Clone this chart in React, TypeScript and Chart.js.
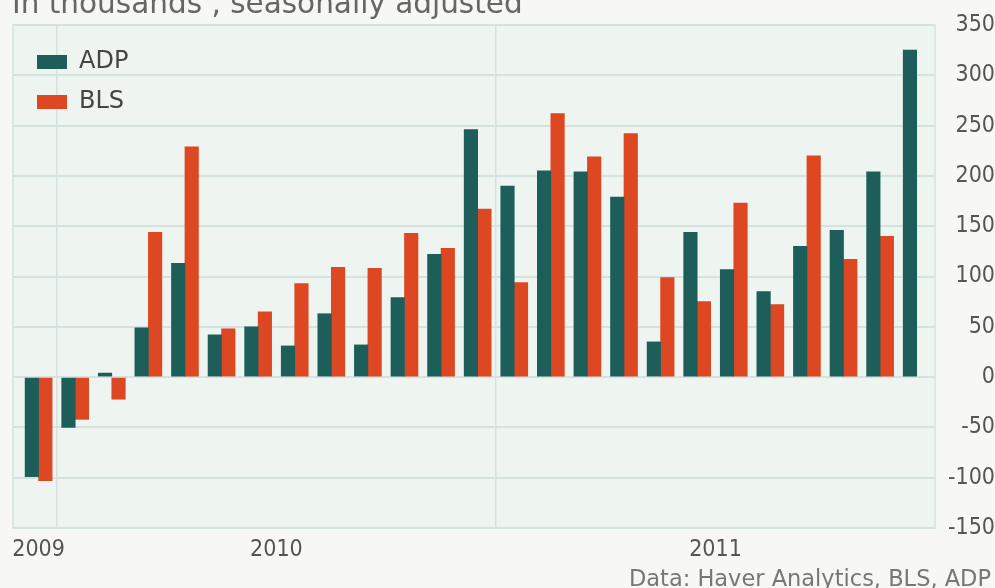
import React, { useEffect, useRef } from 'react';
import { Chart, registerables } from 'chart.js';

Chart.register(...registerables);

// Months Dec 2009 .. Dec 2011
const MONTHS = [
  'Dec 2009',
  'Jan 2010', 'Feb 2010', 'Mar 2010', 'Apr 2010', 'May 2010', 'Jun 2010',
  'Jul 2010', 'Aug 2010', 'Sep 2010', 'Oct 2010', 'Nov 2010', 'Dec 2010',
  'Jan 2011', 'Feb 2011', 'Mar 2011', 'Apr 2011', 'May 2011', 'Jun 2011',
  'Jul 2011', 'Aug 2011', 'Sep 2011', 'Oct 2011', 'Nov 2011', 'Dec 2011',
];
const ADP = [-99, -50, 4, 49, 113, 42, 50, 31, 63, 32, 79, 122, 246, 190, 205, 204, 179, 35, 144, 107, 85, 130, 146, 204, 325];
const BLS = [-103, -42, -22, 144, 229, 48, 65, 93, 109, 108, 143, 128, 167, 94, 262, 219, 242, 99, 75, 173, 72, 220, 117, 140, null];

const Y_MIN = -150;
const Y_MAX = 350;
const Y_STEP = 50;
const YEAR_LABELS = ['2009', '2010', '2011'];
const YEAR_LABEL_AT = [0, 6.5, 18.5];
const YEAR_LINES = [0.5, 12.5];

const TITLE = 'In thousands , seasonally adjusted';
const SOURCE = 'Data: Haver Analytics, BLS, ADP';

const ADP_COLOR = '#1d5e5b';
const BLS_COLOR = '#dd4722';
const PLOT_BG = '#eef5f0';
const PAGE_BG = '#f7f7f6';
const GRID = '#d4e3e0';
const TEXT = '#555555';
const TICK_FONT = "'DejaVu Sans Condensed', 'Liberation Sans', sans-serif";
const SANS = "'DejaVu Sans', Verdana, sans-serif";

export default function App() {
  const ref = useRef<HTMLCanvasElement>(null);

  useEffect(() => {
    const canvas = ref.current;
    if (!canvas) return;

    const decor = {
      id: 'decor',
      beforeDraw(chart: any) {
        const { ctx, chartArea } = chart;
        const { left, top, right, bottom } = chartArea;
        ctx.save();
        ctx.fillStyle = PLOT_BG;
        ctx.fillRect(left, top, right - left, bottom - top);
        ctx.restore();
      },
      beforeDatasetsDraw(chart: any) {
        const { ctx, chartArea } = chart;
        const { left, top, right, bottom } = chartArea;
        ctx.save();
        ctx.strokeStyle = GRID;
        ctx.lineWidth = 1.5;
        ctx.strokeRect(left, top, right - left, bottom - top);
        ctx.restore();
      },
      afterLayout(chart: any) {
        if (chart.legend) {
          chart.legend.left += 8;
          chart.legend.top += 34;
        }
      },
      afterDraw(chart: any) {
        const { ctx, width } = chart;
        ctx.save();
        ctx.fillStyle = '#666666';
        ctx.font = `29.5px ${SANS}`;
        ctx.textAlign = 'left';
        ctx.textBaseline = 'alphabetic';
        ctx.fillText(TITLE, 12, 13);
        ctx.fillStyle = '#777777';
        ctx.font = `22.5px ${SANS}`;
        ctx.textAlign = 'right';
        ctx.fillText(SOURCE, width - 4, 586);
        ctx.restore();
      },
    };

    const chart = new Chart(canvas, {
      type: 'bar',
      data: {
        labels: MONTHS,
        datasets: [
          {
            label: 'ADP',
            data: ADP.map((y, i) => ({ x: i, y })),
            backgroundColor: ADP_COLOR,
            borderWidth: 0,
            barThickness: 13.5,
          },
          {
            label: 'BLS',
            data: BLS.map((y, i) => ({ x: i, y })),
            backgroundColor: BLS_COLOR,
            borderWidth: 0,
            barThickness: 13.5,
          },
        ],
      },
      options: {
        responsive: false,
        animation: false,
        events: [],
        layout: { padding: { top: 25, left: 13, right: 0, bottom: 0 } },
        scales: {
          x: {
            type: 'linear',
            position: 'bottom',
            min: -0.7,
            max: 24.5,
            offset: false,
            afterBuildTicks: (scale: any) => {
              const vals = [...YEAR_LABEL_AT, ...YEAR_LINES].sort((a, b) => a - b);
              scale.ticks = vals.map((v) => ({ value: v }));
            },
            afterFit: (scale: any) => {
              scale.height = 60;
            },
            ticks: {
              autoSkip: false,
              maxRotation: 0,
              minRotation: 0,
              padding: 8,
              color: TEXT,
              font: { family: TICK_FONT, size: 23 },
              callback: (value: any) => {
                const idx = YEAR_LABEL_AT.indexOf(Number(value));
                return idx >= 0 ? YEAR_LABELS[idx] : '';
              },
            },
            grid: {
              offset: false,
              drawTicks: false,
              lineWidth: 1.5,
              color: (ctx: any) =>
                ctx.tick && YEAR_LINES.includes(ctx.tick.value) ? GRID : 'rgba(0,0,0,0)',
            },
            border: { display: false },
          },
          y: {
            position: 'right',
            min: Y_MIN,
            max: Y_MAX,
            afterFit: (scale: any) => {
              scale.width = 60;
            },
            ticks: {
              stepSize: Y_STEP,
              padding: 8,
              crossAlign: 'far',
              color: TEXT,
              font: { family: TICK_FONT, size: 23 },
            },
            grid: { drawTicks: false, color: GRID, lineWidth: 2 },
            border: { display: false },
          },
        },
        plugins: {
          legend: {
            position: 'chartArea' as any,
            align: 'start',
            labels: {
              boxWidth: 30,
              boxHeight: 14,
              padding: 16,
              color: '#444444',
              font: { family: SANS, size: 24 },
            },
          },
          title: { display: false },
          tooltip: { enabled: false },
        },
      },
      plugins: [decor],
    });

    return () => chart.destroy();
  }, []);

  return (
    <div
      style={{
        position: 'absolute',
        left: 0,
        top: 0,
        width: 995,
        height: 588,
        background: PAGE_BG,
        overflow: 'hidden',
      }}
    >
      <canvas ref={ref} width={995} height={588} style={{ display: 'block' }} />
    </div>
  );
}
